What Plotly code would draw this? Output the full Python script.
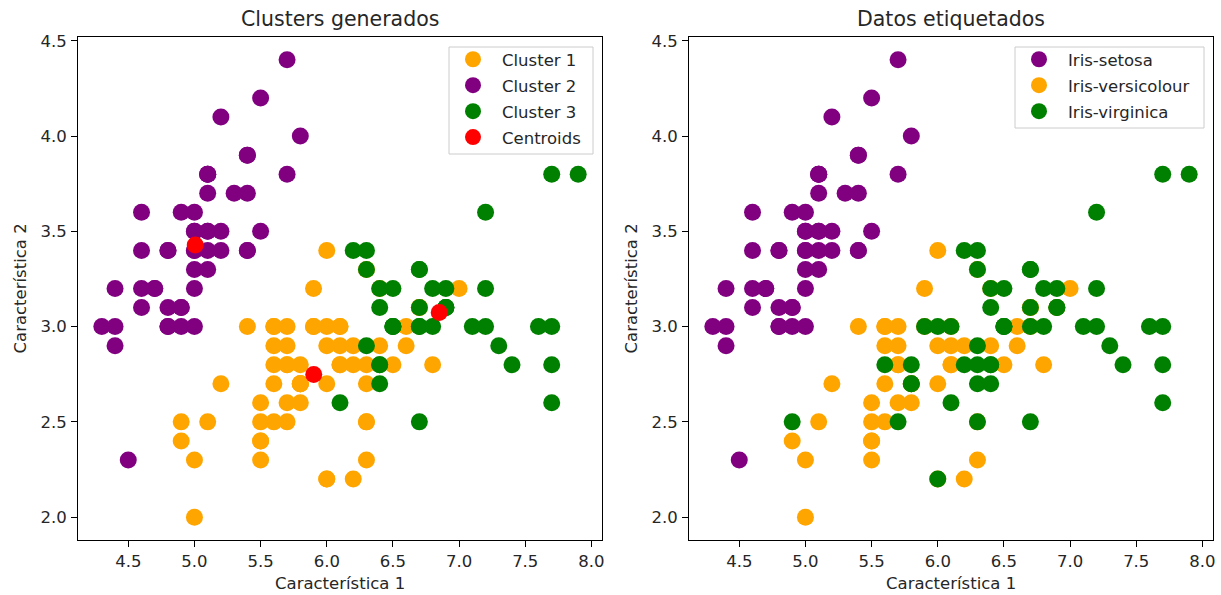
import plotly.graph_objects as go

# ---------------- data (Iris: sepal length / sepal width) ----------------
setosa_x = [5.1, 4.9, 4.7, 4.6, 5.0, 5.4, 4.6, 5.0, 4.4, 4.9, 5.4, 4.8, 4.8, 4.3, 5.8, 5.7, 5.4, 5.1, 5.7, 5.1,
            5.4, 5.1, 4.6, 5.1, 4.8, 5.0, 5.0, 5.2, 5.2, 4.7, 4.8, 5.4, 5.2, 5.5, 4.9, 5.0, 5.5, 4.9, 4.4, 5.1,
            5.0, 4.5, 4.4, 5.0, 5.1, 4.8, 5.1, 4.6, 5.3, 5.0]
setosa_y = [3.5, 3.0, 3.2, 3.1, 3.6, 3.9, 3.4, 3.4, 2.9, 3.1, 3.7, 3.4, 3.0, 3.0, 4.0, 4.4, 3.9, 3.5, 3.8, 3.8,
            3.4, 3.7, 3.6, 3.3, 3.4, 3.0, 3.4, 3.5, 3.4, 3.2, 3.1, 3.4, 4.1, 4.2, 3.1, 3.2, 3.5, 3.6, 3.0, 3.4,
            3.5, 2.3, 3.2, 3.5, 3.8, 3.0, 3.8, 3.2, 3.7, 3.3]
versicolour_x = [7.0, 6.4, 6.9, 5.5, 6.5, 5.7, 6.3, 4.9, 6.6, 5.2, 5.0, 5.9, 6.0, 6.1, 5.6, 6.7, 5.6, 5.8, 6.2, 5.6,
                 5.9, 6.1, 6.3, 6.1, 6.4, 6.6, 6.8, 6.7, 6.0, 5.7, 5.5, 5.5, 5.8, 6.0, 5.4, 6.0, 6.7, 6.3, 5.6, 5.5,
                 5.5, 6.1, 5.8, 5.0, 5.6, 5.7, 5.7, 6.2, 5.1, 5.7]
versicolour_y = [3.2, 3.2, 3.1, 2.3, 2.8, 2.8, 3.3, 2.4, 2.9, 2.7, 2.0, 3.0, 2.2, 2.9, 2.9, 3.1, 3.0, 2.7, 2.2, 2.5,
                 3.2, 2.8, 2.5, 2.8, 2.9, 3.0, 2.8, 3.0, 2.9, 2.6, 2.4, 2.4, 2.7, 2.7, 3.0, 3.4, 3.1, 2.3, 3.0, 2.5,
                 2.6, 3.0, 2.6, 2.3, 2.7, 3.0, 2.9, 2.9, 2.5, 2.8]
virginica_x = [6.3, 5.8, 7.1, 6.3, 6.5, 7.6, 4.9, 7.3, 6.7, 7.2, 6.5, 6.4, 6.8, 5.7, 5.8, 6.4, 6.5, 7.7, 7.7, 6.0,
               6.9, 5.6, 7.7, 6.3, 6.7, 7.2, 6.2, 6.1, 6.4, 7.2, 7.4, 7.9, 6.4, 6.3, 6.1, 7.7, 6.3, 6.4, 6.0, 6.9,
               6.7, 6.9, 5.8, 6.8, 6.7, 6.7, 6.3, 6.5, 6.2, 5.9]
virginica_y = [3.3, 2.7, 3.0, 2.9, 3.0, 3.0, 2.5, 2.9, 2.5, 3.6, 3.2, 2.7, 3.0, 2.5, 2.8, 3.2, 3.0, 3.8, 2.6, 2.2,
               3.2, 2.8, 2.8, 2.7, 3.3, 3.2, 2.8, 3.0, 2.8, 3.0, 2.8, 3.8, 2.8, 2.8, 2.6, 3.0, 3.4, 3.1, 3.0, 3.1,
               3.1, 3.1, 2.7, 3.2, 3.3, 3.0, 2.5, 3.0, 3.4, 3.0]

# k-means cluster assigned to each flower (1, 2 or 3)
setosa_cluster = [2] * 50
versicolour_cluster = [1, 1, 3, 1, 1, 1, 1, 1, 1, 1, 1, 1, 1, 1, 1, 1, 1, 1, 1, 1,
                       1, 1, 1, 1, 1, 1, 1, 3, 1, 1, 1, 1, 1, 1, 1, 1, 1, 1, 1, 1,
                       1, 1, 1, 1, 1, 1, 1, 1, 1, 1]
virginica_cluster = [3, 1, 3, 3, 3, 3, 1, 3, 3, 3, 3, 3, 3, 1, 1, 3, 3, 3, 3, 1,
                     3, 1, 3, 1, 3, 3, 1, 1, 3, 3, 3, 3, 3, 1, 3, 3, 3, 3, 1, 3,
                     3, 3, 1, 3, 3, 3, 1, 3, 3, 1]

centroid_x = [5.9016, 5.006, 6.85]
centroid_y = [2.7484, 3.428, 3.0737]

cluster_names = ["Cluster 1", "Cluster 2", "Cluster 3"]
species_names = ["Iris-setosa", "Iris-versicolour", "Iris-virginica"]
xticks = [4.5, 5.0, 5.5, 6.0, 6.5, 7.0, 7.5, 8.0]
yticks = [2.0, 2.5, 3.0, 3.5, 4.0, 4.5]

# ---------------- styling ----------------
W, H = 1221, 595
ORANGE, PURPLE, GREEN, RED = "#FFA500", "#800080", "#008000", "#FF0000"
FONT = "DejaVu Sans"
TXT = "#262626"
MS = 17

all_x = setosa_x + versicolour_x + virginica_x
all_y = setosa_y + versicolour_y + virginica_y
all_c = setosa_cluster + versicolour_cluster + virginica_cluster

fig = go.Figure()

cluster_colors = [ORANGE, PURPLE, GREEN]
for k, (name, col) in enumerate(zip(cluster_names, cluster_colors), start=1):
    xs = [x for x, c in zip(all_x, all_c) if c == k]
    ys = [y for y, c in zip(all_y, all_c) if c == k]
    fig.add_trace(go.Scatter(x=xs, y=ys, mode="markers", name=name,
                             marker=dict(color=col, size=MS, line=dict(width=0)),
                             xaxis="x", yaxis="y", legend="legend", legendgroup=name))
fig.add_trace(go.Scatter(x=centroid_x, y=centroid_y, mode="markers", name="Centroids",
                         marker=dict(color=RED, size=MS, line=dict(width=0)),
                         xaxis="x", yaxis="y", legend="legend", legendgroup="Centroids"))

for name, col, xs, ys in zip(species_names, [PURPLE, ORANGE, GREEN],
                             [setosa_x, versicolour_x, virginica_x],
                             [setosa_y, versicolour_y, virginica_y]):
    fig.add_trace(go.Scatter(x=xs, y=ys, mode="markers", name=name,
                             marker=dict(color=col, size=MS, line=dict(width=0)),
                             xaxis="x2", yaxis="y2", legend="legend2", legendgroup=name))

L1, R1, L2, R2, TOP, BOT = 78, 602, 689, 1213, 37, 540
ydom = [1 - BOT / H, 1 - TOP / H]
axis_common = dict(showgrid=False, zeroline=False, showline=True, mirror=True, automargin=False,
                   linecolor="#000000", linewidth=1, ticks="outside", ticklen=6,
                   tickcolor="#000000", tickwidth=1, tickformat=".1f",
                   tickfont=dict(family=FONT, size=16.5, color=TXT))

xa = dict(axis_common, range=[4.12, 8.08], tickvals=xticks, ticklabelstandoff=0)
ya = dict(axis_common, range=[1.88, 4.52], tickvals=yticks, ticklabelstandoff=1)

legend_common = dict(bgcolor="rgba(0,0,0,0)", borderwidth=0,
                     font=dict(family=FONT, size=16.5, color=TXT),
                     traceorder="grouped", tracegroupgap=1.5, itemsizing="trace", itemwidth=48,
                     xanchor="left", yanchor="top")

title_font = dict(family=FONT, size=20.5, color=TXT)
label_font = dict(family=FONT, size=16.5, color=TXT)


def ann(text, x, y, font, xanchor="center", yanchor="middle", yshift=0, angle=0):
    return dict(text=text, x=x, y=y, xref="paper", yref="paper", xanchor=xanchor, yanchor=yanchor,
                yshift=yshift, textangle=angle, showarrow=False, font=font)


def legend_frame(x0, y0, x1, y1):
    return dict(type="rect", xref="paper", yref="paper", layer="above",
                x0=x0 / W, x1=x1 / W, y0=1 - y1 / H, y1=1 - y0 / H,
                line=dict(color="#CCCCCC", width=1), fillcolor="rgba(255,255,255,0.8)")


fig.update_layout(
    width=W, height=H,
    margin=dict(l=0, r=0, t=0, b=0),
    paper_bgcolor="white", plot_bgcolor="white",
    font=dict(family=FONT, color=TXT),
    xaxis=dict(xa, domain=[L1 / W, R1 / W], anchor="y"),
    yaxis=dict(ya, domain=ydom, anchor="x"),
    xaxis2=dict(xa, domain=[L2 / W, R2 / W], anchor="y2"),
    yaxis2=dict(ya, domain=ydom, anchor="x2"),
    legend=dict(legend_common, x=444 / W, y=1 - 42 / H),
    legend2=dict(legend_common, x=1010 / W, y=1 - 42 / H),
    shapes=[legend_frame(449, 47, 593, 154), legend_frame(1015, 47, 1204, 128)],
    annotations=[
        ann("Clusters generados", (L1 + R1) / 2 / W, 1 - TOP / H, title_font, yanchor="bottom", yshift=4),
        ann("Datos etiquetados", (L2 + R2) / 2 / W, 1 - TOP / H, title_font, yanchor="bottom", yshift=4),
        ann("Característica 1", (L1 + R1) / 2 / W, 1 - 583 / H, label_font),
        ann("Característica 1", (L2 + R2) / 2 / W, 1 - 583 / H, label_font),
        ann("Característica 2", 20 / W, 1 - (TOP + BOT) / 2 / H, label_font, angle=-90),
        ann("Característica 2", 631 / W, 1 - (TOP + BOT) / 2 / H, label_font, angle=-90),
    ],
)

fig.write_html("out.html", config={"displayModeBar": False},
               post_script="document.body.style.margin='0';document.body.style.overflow='hidden';")
